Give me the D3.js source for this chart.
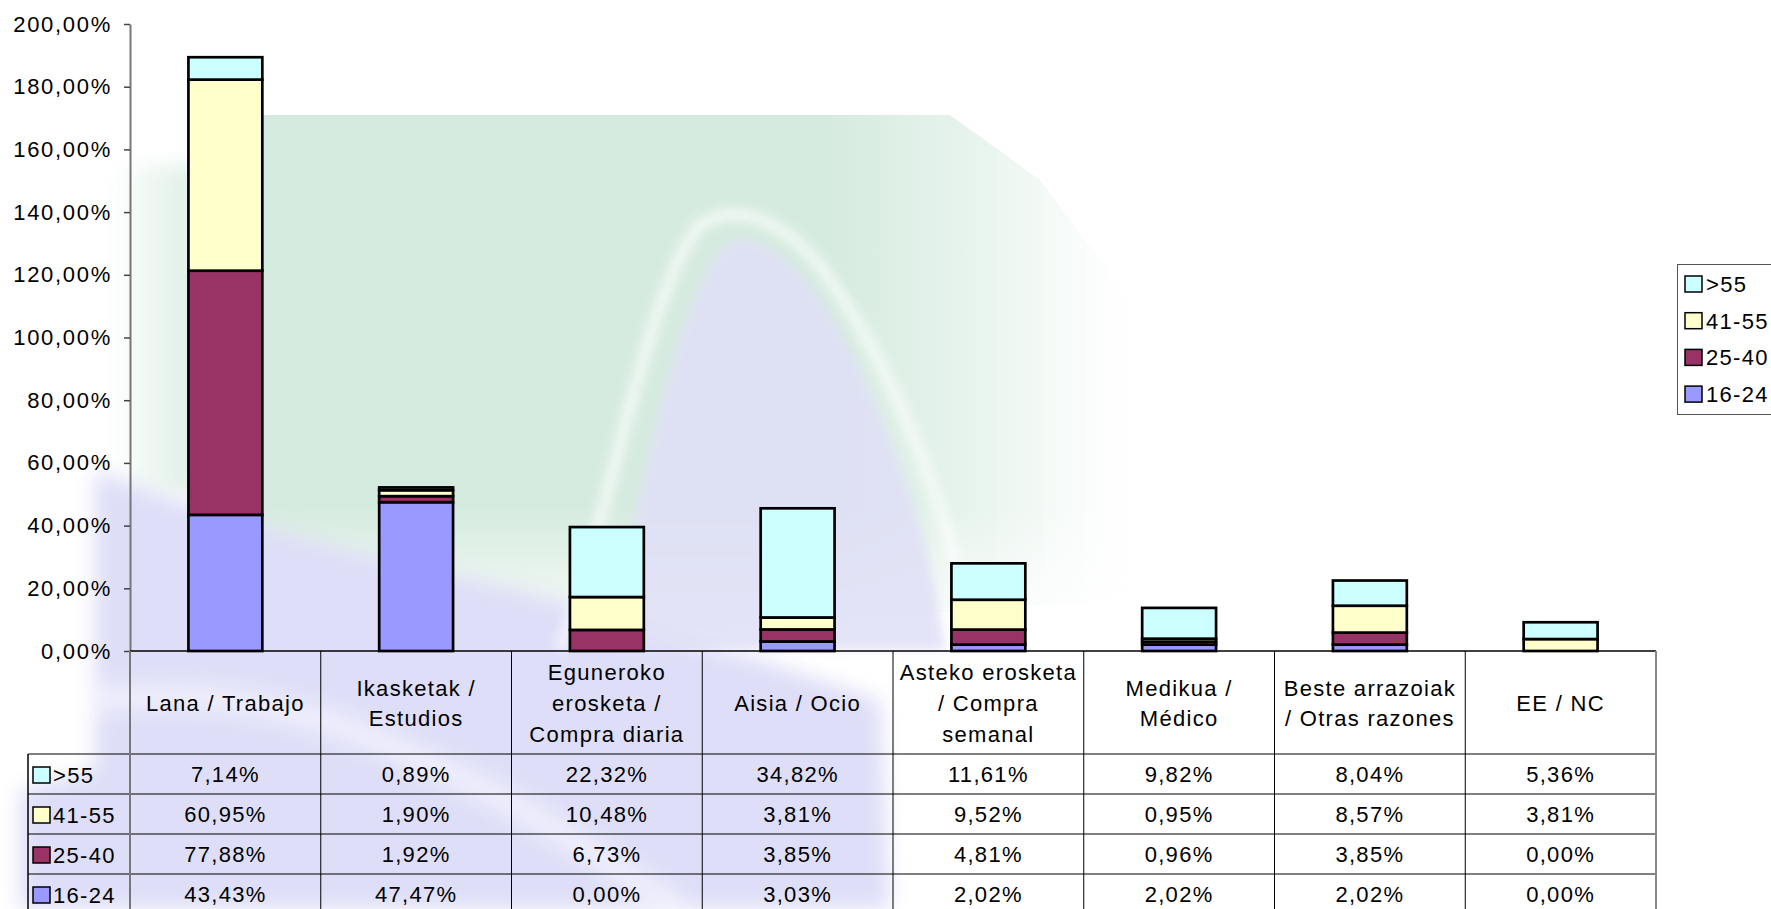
<!DOCTYPE html>
<html>
<head>
<meta charset="utf-8">
<script src="https://cdn.jsdelivr.net/npm/d3@7"></script>
<style>
  html, body { margin: 0; padding: 0; background: #fff; }
  svg text { font-family: "Liberation Sans", Arial, sans-serif; font-size: 22px; letter-spacing: 1.3px; fill: #000; }
  .tick text { letter-spacing: 1.7px; }
</style>
</head>
<body>
<script>
// categories (table header lines)
const categories = ["Lana / Trabajo", "Ikasketak / Estudios", "Eguneroko erosketa / Compra diaria", "Aisia / Ocio",
                    "Asteko erosketa / Compra semanal", "Medikua / Médico", "Beste arrazoiak / Otras razones", "EE / NC"]
const categoryLines = [["Lana / Trabajo"], ["Ikasketak /", "Estudios"], ["Eguneroko", "erosketa /", "Compra diaria"], ["Aisia / Ocio"],
                       ["Asteko erosketa", "/ Compra", "semanal"], ["Medikua /", "Médico"], ["Beste arrazoiak", "/ Otras razones"], ["EE / NC"]]

// series, stacked bottom -> top
const ageGroups = ["16-24", "25-40", "41-55", ">55"]
const v16_24 = [43.43, 47.47, 0.00, 3.03, 2.02, 2.02, 2.02, 0.00]
const v25_40 = [77.88, 1.92, 6.73, 3.85, 4.81, 0.96, 3.85, 0.00]
const v41_55 = [60.95, 1.90, 10.48, 3.81, 9.52, 0.95, 8.57, 3.81]
const v55 = [7.14, 0.89, 22.32, 34.82, 11.61, 9.82, 8.04, 5.36]
const colors = { "16-24": "#9999ff", "25-40": "#993366", "41-55": "#ffffcc", ">55": "#ccffff" }

const yTicks = [0, 20, 40, 60, 80, 100, 120, 140, 160, 180, 200]

const width = 1771, height = 909
const plotLeft = 130, plotRight = 1656, plotTop = 24, base = 651
const headerBottom = 754, rowH = 40, tableLeft = 28

const locale = d3.formatLocale({ decimal: ",", thousands: ".", grouping: [3], currency: ["", "€"] })
const fmt = locale.format(".2f")

const svg = d3.select("body").append("svg")
    .attr("width", width)
    .attr("height", height)

// --- faint watermark picture behind the chart ---
const defs = svg.append("defs")
defs.append("filter").attr("id", "soft").attr("x", "-20%").attr("y", "-20%").attr("width", "140%").attr("height", "140%")
    .append("feGaussianBlur").attr("stdDeviation", 10)
defs.append("filter").attr("id", "soft2")
    .append("feGaussianBlur").attr("stdDeviation", 5)
const gLeft = defs.append("linearGradient").attr("id", "greenLeft").attr("x1", 0).attr("x2", 1).attr("y1", 0).attr("y2", 0)
gLeft.append("stop").attr("offset", "0%").attr("stop-color", "#d6ebdf").attr("stop-opacity", 0)
gLeft.append("stop").attr("offset", "100%").attr("stop-color", "#d6ebdf").attr("stop-opacity", 0.85)
const gRight = defs.append("linearGradient").attr("id", "greenRight").attr("gradientUnits", "userSpaceOnUse")
    .attr("x1", 195).attr("x2", 1130).attr("y1", 0).attr("y2", 0)
gRight.append("stop").attr("offset", "0%").attr("stop-color", "#d6ebdf")
gRight.append("stop").attr("offset", "68%").attr("stop-color", "#d6ebdf")
gRight.append("stop").attr("offset", "84%").attr("stop-color", "#d9ede2").attr("stop-opacity", 0.6)
gRight.append("stop").attr("offset", "100%").attr("stop-color", "#e4f2ea").attr("stop-opacity", 0)
const gDown = defs.append("linearGradient").attr("id", "fadeDown").attr("gradientUnits", "userSpaceOnUse")
    .attr("x1", 0).attr("x2", 0).attr("y1", 115).attr("y2", 660)
gDown.append("stop").attr("offset", "0%").attr("stop-color", "#fff")
gDown.append("stop").attr("offset", "72%").attr("stop-color", "#fff")
gDown.append("stop").attr("offset", "100%").attr("stop-color", "#000")
defs.append("mask").attr("id", "greenMask").attr("maskUnits", "userSpaceOnUse")
    .attr("x", 0).attr("y", 0).attr("width", width).attr("height", height)
    .append("rect").attr("x", 0).attr("y", 0).attr("width", width).attr("height", height).attr("fill", "url(#fadeDown)")

const bg = svg.append("g").attr("class", "watermark")
// left green fade
bg.append("rect").attr("x", 110).attr("y", 165).attr("width", 90).attr("height", 330)
    .attr("fill", "url(#greenLeft)").attr("filter", "url(#soft)")
// main green block, fading to the right and downwards
bg.append("path")
    .attr("d", "M 195 115 L 950 115 L 1040 180 L 1130 300 L 1130 600 L 195 660 Z")
    .attr("fill", "url(#greenRight)").attr("mask", "url(#greenMask)")
// lavender lower-left
bg.append("path")
    .attr("d", "M 95 470 C 220 520 380 560 520 590 C 600 610 680 640 760 660 L 880 700 L 890 909 L 20 909 L 20 790 L 95 770 Z")
    .attr("fill", "#dedef8").attr("filter", "url(#soft)")
// lavender arch
bg.append("path")
    .attr("d", "M 610 650 C 640 480 680 290 725 245 C 775 220 830 300 870 390 C 905 470 935 560 945 650 Z")
    .attr("fill", "#e0e0f7").attr("opacity", 0.85).attr("filter", "url(#soft2)")
// white highlight along the arch
bg.append("path")
    .attr("d", "M 560 650 C 610 520 645 290 700 225 C 745 195 800 235 830 280 C 885 360 930 460 960 580")
    .attr("fill", "none").attr("stroke", "#fff").attr("stroke-width", 14).attr("opacity", 0.55).attr("filter", "url(#soft2)")
bg.append("path")
    .attr("d", "M 90 700 C 200 690 300 700 420 760 C 520 800 600 860 680 909")
    .attr("fill", "none").attr("stroke", "#fff").attr("stroke-width", 26).attr("opacity", 0.5).attr("filter", "url(#soft)")

// --- scales ---
const x = d3.scaleBand().domain(categories).range([plotLeft, plotRight]).paddingInner(0.6).paddingOuter(0.3)
const col = d3.scaleBand().domain(categories).range([plotLeft, plotRight])
const y = d3.scaleLinear().domain([0, 200]).range([base, plotTop])

const rows = categories.map((c, i) => ({ cat: c, "16-24": v16_24[i], "25-40": v25_40[i], "41-55": v41_55[i], ">55": v55[i] }))
const stacked = d3.stack().keys(ageGroups)(rows)

// bars
svg.append("g").selectAll("g")
    .data(stacked)
    .enter().append("g")
    .attr("fill", d => colors[d.key])
    .selectAll("rect")
    .data(d => d.filter(s => s[1] - s[0] > 0))
    .enter().append("rect")
    .attr("x", d => x(d.data.cat) + 1.2)
    .attr("width", x.bandwidth() - 2.4)
    .attr("y", d => y(d[1]))
    .attr("height", d => y(d[0]) - y(d[1]))
    .attr("stroke", "#000")
    .attr("stroke-width", 2.7)

// y axis
const yAxis = d3.axisLeft(y).tickValues(yTicks).tickSize(6).tickSizeOuter(0).tickPadding(12)
    .tickFormat(d => fmt(d) + "%")
const ax = svg.append("g").attr("transform", "translate(" + plotLeft + ",0)").call(yAxis)
ax.select(".domain").attr("stroke", "#777").attr("stroke-width", 2)
ax.selectAll(".tick line").attr("stroke", "#444").attr("stroke-width", 1.5)
ax.selectAll(".tick text").attr("font-size", null).attr("font-family", null).attr("fill", "#000")

// --- data table ---
const table = svg.append("g").attr("class", "table")
const seriesRows = [[">55", v55], ["41-55", v41_55], ["25-40", v25_40], ["16-24", v16_24]]

// horizontal lines
table.append("line").attr("x1", plotLeft).attr("x2", plotRight).attr("y1", base).attr("y2", base)
    .attr("stroke", "#000").attr("stroke-width", 1.5)
seriesRows.forEach((r, i) => {
    table.append("line").attr("x1", tableLeft).attr("x2", plotRight)
        .attr("y1", headerBottom + i * rowH).attr("y2", headerBottom + i * rowH)
        .attr("stroke", "#000").attr("stroke-width", 1)
})
// vertical lines
table.selectAll(".vline")
    .data(categories.slice(1))
    .enter().append("line")
    .attr("x1", d => col(d)).attr("x2", d => col(d))
    .attr("y1", base).attr("y2", height)
    .attr("stroke", "#000").attr("stroke-width", 1)
table.append("line").attr("x1", plotLeft).attr("x2", plotLeft).attr("y1", base).attr("y2", height)
    .attr("stroke", "#777").attr("stroke-width", 2)
table.append("line").attr("x1", plotRight).attr("x2", plotRight).attr("y1", base).attr("y2", height)
    .attr("stroke", "#888").attr("stroke-width", 2)
table.append("line").attr("x1", tableLeft).attr("x2", tableLeft).attr("y1", headerBottom).attr("y2", height)
    .attr("stroke", "#000").attr("stroke-width", 1.5)

// header text
const headCenter = (base + headerBottom) / 2 + 0.5
const lineH = 30.7
categories.forEach((c, i) => {
    const lines = categoryLines[i]
    const t = table.append("text")
        .attr("text-anchor", "middle")
        .attr("x", col(c) + col.bandwidth() / 2)
        .attr("y", headCenter - (lines.length - 1) * lineH / 2 + 8)
    lines.forEach((ln, j) => {
        t.append("tspan").attr("x", col(c) + col.bandwidth() / 2).attr("dy", j === 0 ? 0 : lineH).text(ln)
    })
})

// value rows
seriesRows.forEach((r, i) => {
    const cy = headerBottom + i * rowH + rowH / 2
    table.append("rect").attr("x", 33).attr("y", cy - 7).attr("width", 17).attr("height", 16)
        .attr("fill", colors[r[0]]).attr("stroke", "#000").attr("stroke-width", 1.5)
    table.append("text").attr("x", 53).attr("y", cy + 9).text(r[0])
    table.selectAll(".v" + i)
        .data(r[1])
        .enter().append("text")
        .attr("text-anchor", "middle")
        .attr("x", (d, j) => col(categories[j]) + col.bandwidth() / 2)
        .attr("y", cy + 8)
        .text(d => fmt(d) + "%")
})

// --- legend ---
const legend = svg.append("g").attr("class", "legend")
legend.append("rect").attr("x", 1677.5).attr("y", 264.5).attr("width", 120).attr("height", 150)
    .attr("fill", "#fff").attr("stroke", "#555").attr("stroke-width", 1)
const legendKeys = ageGroups.slice().reverse()
legendKeys.forEach((k, i) => {
    const cy = 284 + i * 36.7
    legend.append("rect").attr("x", 1685).attr("y", cy - 8).attr("width", 17).attr("height", 16)
        .attr("fill", colors[k]).attr("stroke", "#000").attr("stroke-width", 1.5)
    legend.append("text").attr("x", 1706).attr("y", cy + 8).text(k)
})
</script>
</body>
</html>
